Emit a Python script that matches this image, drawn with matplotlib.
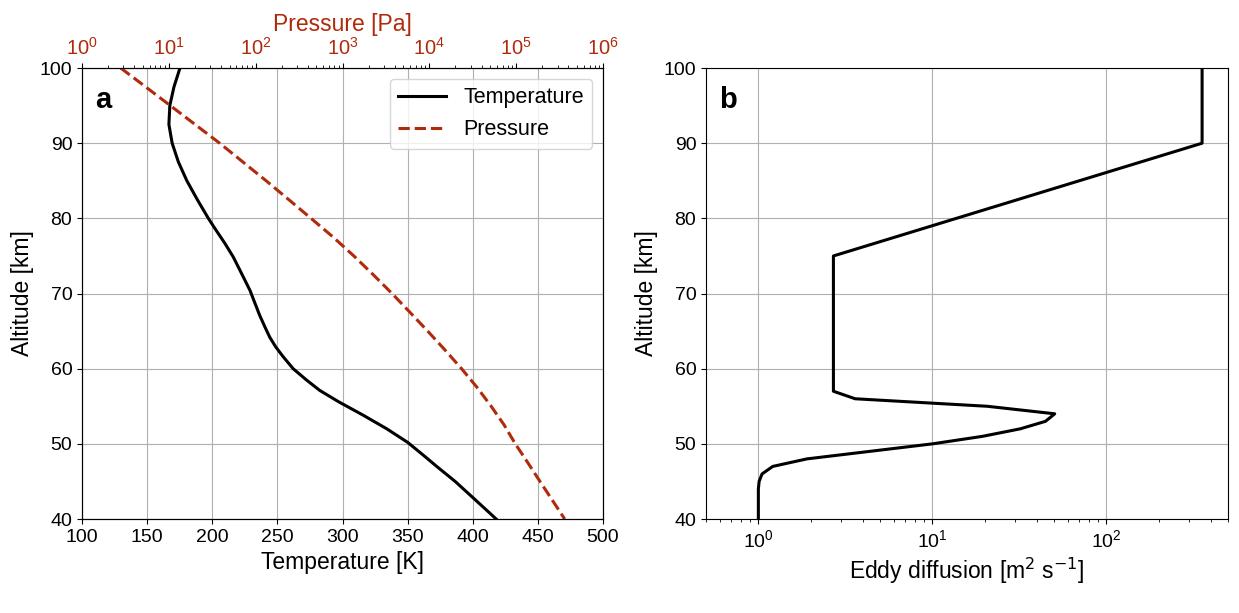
import matplotlib

matplotlib.use("Agg")
import matplotlib.pyplot as plt  # noqa: E402
import numpy as np  # noqa: E402

plt.rcParams["font.family"] = ["Liberation Sans", "DejaVu Sans"]

_RED = "#b02a0c"

# --- panel a: temperature profile ---
alt_T = [100, 97.5, 95, 92.5, 90, 87.5, 85, 82.5, 80, 78.4, 76.7, 74.9, 72.7,
         70.4, 68.7, 67.1, 65.6, 64.2, 62.9, 61.6, 60.0, 58.5, 57.1, 55.6,
         53.8, 52.0, 50.2, 48.5, 47.0, 45.0, 42.8, 40]
temperature = [175.2, 170.6, 167.4, 166.7, 169.2, 174.0, 180.5, 188.5, 197.0,
               203.0, 209.6, 216.0, 222.4, 229.0, 232.8, 236.4, 240.3, 244.1,
               248.7, 254.4, 262.1, 272.3, 282.6, 297.0, 316.0, 334.0, 350.0,
               362.0, 372.3, 386.5, 400.4, 418.0]

# --- panel a: pressure profile ---
alt_P = [100, 97.5, 95, 92.5, 90, 87.5, 85, 82.5, 80, 77.5, 75, 72.5, 70,
         67.5, 65, 62.5, 60, 57.5, 55, 52.5, 50, 47.5, 45, 42.5, 40]
pressure = [2.79, 5.4, 10.4, 20.0, 38.5, 71.3, 132.0, 240.0, 434.0, 782.0,
            1350.0, 2260.0, 3720.0, 5980.0, 9570.0, 15100.0, 23500.0, 35500.0,
            51500.0, 72800.0, 97700.0, 136000.0, 188000.0, 261000.0, 362000.0]

# --- panel b: eddy diffusion profile ---
alt_K = [100, 90, 75, 57, 56, 55, 54, 53, 52, 51, 50, 48, 47, 46, 45, 44, 40]
eddy = [355, 355, 2.7, 2.7, 3.6, 20.7, 50.5, 44.7, 32.0, 19.4, 10.0, 1.9,
        1.21, 1.05, 1.01, 1.0, 1.0]

fig = plt.figure(figsize=(12.39, 6.13), dpi=100)
ax1 = fig.add_axes([0.0662, 0.1533, 0.4205, 0.7357])
ax2 = fig.add_axes([0.5698, 0.1533, 0.4213, 0.7357])

# --- a ---
l1, = ax1.plot(temperature, alt_T, color="black", lw=2.2, label="Temperature")
ax1.set_xlim(100, 500)
ax1.set_ylim(40, 100)
ax1.set_xticks(np.arange(100, 501, 50))
ax1.set_yticks(np.arange(40, 101, 10))
ax1.grid(True, color="#b0b0b0", lw=0.8)
ax1.set_xlabel("Temperature [K]", fontsize=16.5)
ax1.set_ylabel("Altitude [km]", fontsize=16.5)
ax1.tick_params(labelsize=14)

axp = ax1.twiny()
l2, = axp.plot(pressure, alt_P, color=_RED, lw=2.2, ls="--", label="Pressure")
axp.set_xscale("log")
axp.set_xlim(1, 1e6)
axp.set_xticks([1e0, 1e1, 1e2, 1e3, 1e4, 1e5, 1e6])
axp.tick_params(axis="x", labelsize=14.5, labelcolor=_RED)
axp.set_xlabel("Pressure [Pa]", fontsize=16.5, color=_RED)

axp.legend([l1, l2], ["Temperature", "Pressure"], loc="upper right",
           fontsize=15.5, handlelength=2.2)
ax1.text(0.025, 0.96, "a", transform=ax1.transAxes, fontsize=21,
         fontweight="bold", va="top", ha="left")

# --- b ---
ax2.plot(eddy, alt_K, color="black", lw=2.2)
ax2.set_xscale("log")
ax2.set_xlim(0.5, 500)
ax2.set_ylim(40, 100)
ax2.set_yticks(np.arange(40, 101, 10))
ax2.grid(True, color="#b0b0b0", lw=0.8)
ax2.set_xlabel(r"Eddy diffusion [m$^2$ s$^{-1}$]", fontsize=16.5)
ax2.set_ylabel("Altitude [km]", fontsize=16.5)
ax2.tick_params(labelsize=14)
ax2.text(0.025, 0.96, "b", transform=ax2.transAxes, fontsize=21,
         fontweight="bold", va="top", ha="left")

fig.savefig("out.png", dpi=100)
plt.close(fig)
